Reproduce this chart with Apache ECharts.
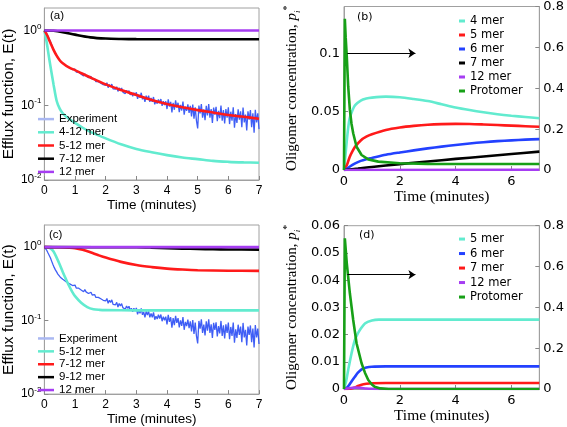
<!DOCTYPE html>
<html><head><meta charset="utf-8">
<script src="https://cdn.jsdelivr.net/npm/echarts@6.0.0/dist/echarts.min.js"></script>
<style>html,body{margin:0;padding:0;background:#fff}#c{width:567px;height:427px}</style>
</head><body><div id="c"></div>
<script>
// ---------- DATA ----------
// Experimental efflux function (shared by panels a and c), sampled every expStep minutes from t = 0
const expStep = 0.04;
const expValues = [
 1.0,0.96,0.90,0.83,0.77,0.71,0.64,0.58,0.53,0.49,0.46,0.43,0.41,0.39,0.375,0.365,0.355,0.345,0.337,0.328,0.323,0.314,0.31,0.30,0.302,
 0.304,0.278,0.288,0.276,0.285,0.261,0.265,0.247,0.264,0.246,0.252,0.234,0.240,0.243,0.223,0.225,0.226,0.207,0.220,0.207,0.216,0.198,0.203,0.189,0.198,
 0.185,0.200,0.172,0.189,0.177,0.192,0.166,0.176,0.164,0.177,0.153,0.171,0.158,0.170,0.150,0.156,0.143,0.158,0.147,0.157,0.138,0.147,0.132,0.147,0.135,
 0.149,0.122,0.139,0.126,0.147,0.120,0.131,0.111,0.134,0.119,0.134,0.111,0.125,0.111,0.129,0.103,0.115,0.105,0.120,0.107,0.121,0.098,0.113,0.101,0.113,
 0.089,0.120,0.096,0.111,0.080,0.108,0.087,0.116,0.093,0.108,0.081,0.101,0.085,0.112,0.075,0.096,0.084,0.103,0.079,0.098,0.071,0.102,0.066,0.094,0.062,
 0.049,0.099,0.078,0.104,0.068,0.088,0.063,0.098,0.073,0.104,0.068,0.089,0.058,0.093,0.075,0.095,0.061,0.084,0.067,0.099,0.062,0.086,0.057,0.089,0.068,
 0.094,0.056,0.082,0.062,0.094,0.050,0.076,0.058,0.088,0.064,0.083,0.051,0.093,0.059,0.075,0.046,0.083,0.064,0.086,0.051,0.078,0.043,0.087,0.059,0.078,0.048
];

// Panel (a): model efflux curves [t, E]
const a_4_12 = [[0,1],[0.05,0.8],[0.1,0.6],[0.15,0.44],[0.2,0.33],[0.3,0.19],[0.4,0.115],[0.5,0.09],[0.6,0.078],[0.8,0.066],[1,0.058],[1.25,0.05],[1.5,0.044],[2,0.036],[2.5,0.03],[3,0.026],[3.5,0.0235],[4,0.0215],[4.5,0.02],[5,0.019],[5.5,0.018],[6,0.0175],[6.5,0.0172],[7,0.017]];
const a_5_12 = [[0,1],[0.05,0.93],[0.1,0.85],[0.15,0.76],[0.2,0.68],[0.3,0.55],[0.4,0.46],[0.5,0.40],[0.6,0.365],[0.8,0.32],[1,0.295],[1.5,0.235],[2,0.19],[2.5,0.16],[3,0.137],[3.5,0.118],[4,0.104],[4.5,0.094],[5,0.086],[5.5,0.08],[6,0.074],[6.5,0.07],[7,0.066]];
const a_7_12 = [[0,1],[0.3,0.99],[0.6,0.95],[1,0.88],[1.5,0.81],[2,0.78],[2.5,0.77],[3,0.766],[4,0.765],[5,0.765],[6,0.765],[7,0.765]];
const a_12 = [[0,1],[7,1]];

// Panel (c): model efflux curves [t, E]
const c_5_12 = [[0,1],[0.1,0.995],[0.2,0.96],[0.3,0.87],[0.4,0.72],[0.5,0.58],[0.6,0.46],[0.7,0.37],[0.8,0.3],[0.9,0.25],[1,0.215],[1.2,0.175],[1.4,0.153],[1.6,0.143],[1.8,0.14],[2,0.139],[3,0.138],[7,0.138]];
const c_7_12 = [[0,1],[0.5,0.995],[0.8,0.985],[1,0.97],[1.25,0.92],[1.5,0.85],[1.75,0.78],[2,0.72],[2.5,0.63],[3,0.57],[3.5,0.535],[4,0.51],[4.5,0.495],[5,0.485],[6,0.478],[7,0.475]];
const c_9_12 = [[0,1],[3,0.995],[3.5,0.985],[4,0.97],[4.5,0.955],[5,0.945],[5.5,0.935],[6,0.93],[7,0.925]];
const c_12 = [[0,1],[7,1]];

// Panel (b): oligomer concentrations (left axis) and protomer (right axis)
const b_4 = [[0,0],[0.05,0.012],[0.1,0.025],[0.15,0.036],[0.2,0.044],[0.3,0.051],[0.4,0.0555],[0.6,0.0595],[0.8,0.0612],[1,0.062],[1.5,0.0628],[2,0.0623],[2.5,0.0608],[3,0.059],[3.5,0.0563],[4,0.0535],[4.5,0.0513],[5,0.0494],[5.5,0.0478],[6,0.0465],[6.5,0.0454],[7,0.0443]];
const b_5 = [[0,0],[0.1,0.004],[0.2,0.011],[0.3,0.016],[0.4,0.02],[0.6,0.0253],[0.8,0.0285],[1,0.0306],[1.5,0.0343],[2,0.0364],[2.5,0.0378],[3,0.0388],[3.5,0.0393],[4,0.0395],[4.5,0.0394],[5,0.039],[5.5,0.0385],[6,0.038],[6.5,0.0375],[7,0.037]];
const b_6 = [[0,0],[0.1,0.0008],[0.2,0.0028],[0.4,0.0057],[0.6,0.0078],[0.8,0.0092],[1,0.0103],[1.5,0.013],[2,0.015],[2.5,0.0168],[3,0.0185],[3.5,0.02],[4,0.0214],[4.5,0.0227],[5,0.0238],[5.5,0.0247],[6,0.0254],[6.5,0.026],[7,0.0264]];
const b_7 = [[0,0],[0.5,0.0012],[1,0.0026],[2,0.005],[3,0.0073],[4,0.0095],[5,0.0116],[6,0.0137],[7,0.0157]];
const b_12 = [[0,0],[7,0.0002]];
const b_prot = [[0,0],[0.03,0.74],[0.06,0.65],[0.1,0.555],[0.15,0.41],[0.21,0.294],[0.27,0.225],[0.33,0.18],[0.45,0.114],[0.63,0.0735],[0.87,0.052],[1.23,0.041],[2,0.033],[3,0.03],[5,0.029],[7,0.029]];

// Panel (d)
const d_5 = [[0,0],[0.08,0.003],[0.15,0.007],[0.27,0.0131],[0.39,0.018],[0.5,0.0205],[0.57,0.0217],[0.75,0.0241],[1,0.0252],[1.25,0.0255],[2,0.0255],[7,0.0255]];
const d_6 = [[0,0],[0.1,0.0005],[0.2,0.0017],[0.3,0.0032],[0.39,0.0045],[0.5,0.006],[0.63,0.0072],[0.8,0.0079],[1,0.0082],[1.5,0.0083],[7,0.0083]];
const d_7 = [[0,0],[0.2,0.0001],[0.3,0.0003],[0.4,0.0006],[0.5,0.0011],[0.63,0.0016],[0.8,0.0019],[1,0.0021],[1.5,0.0022],[7,0.0022]];
const d_12 = [[0,0],[0.2,0.0003],[0.4,0.0005],[0.6,0.0004],[0.8,0.0002],[1,0.0001],[1.5,0],[7,0]];
const d_prot = [[0,0],[0.03,0.738],[0.1,0.616],[0.21,0.469],[0.33,0.338],[0.45,0.224],[0.63,0.126],[0.75,0.08],[0.87,0.044],[1.0,0.022],[1.1,0.011],[1.3,0.003],[1.6,0],[7,0]];

// Arrow annotations (t start, t end, left-axis value)
const b_arrow = [0.12, 2.56, 0.1];
const d_arrow = [0.12, 2.56, 0.042];

// Legend labels
const legA = ['Experiment','4-12 mer','5-12 mer','7-12 mer','12 mer'];
const legB = ['4 mer','5 mer','6 mer','7 mer','12 mer','Protomer'];
const legC = ['Experiment','5-12 mer','7-12 mer','9-12 mer','12 mer'];
const legD = ['5 mer','6 mer','7 mer','12 mer','Protomer'];

// ---------- STYLE ----------
const COL = {cyan:'#62ebcf', red:'#ff1a1a', black:'#000000', purple:'#a63df2', blue:'#2341ff', green:'#17a017', exp:'#2a4cf4', expLeg:'#aab8f2'};
const GRAY = '#a0a0a0';
const SANS = 'Liberation Sans', DJ = 'DejaVu Sans', SERIF = 'Liberation Serif';
const ZW = '\u200b'; // keeps legend names of lower panels distinct

const expData = expValues.map((v,i)=>[+(i*expStep).toFixed(2), v]);

function lineS(name, data, color, xi, yi, extra){
  return Object.assign({type:'line', name, data, xAxisIndex:xi, yAxisIndex:yi, showSymbol:false, symbol:'none',
    smooth:0.3, lineStyle:{color, width:2.6}, itemStyle:{color}, animation:false, z:3}, extra||{});
}
function expS(name, xi, yi){
  return {type:'line', name, data:expData, xAxisIndex:xi, yAxisIndex:yi, showSymbol:false, symbol:'none',
    lineStyle:{color:COL.exp, width:1.3, opacity:0.9}, itemStyle:{color:COL.exp}, animation:false, z:2};
}
function arrowML(a){
  return {silent:true, symbol:['none','arrow'], symbolSize:7, animation:false,
    lineStyle:{color:'#000', width:1, type:'solid'}, label:{show:false}, emphasis:{disabled:true},
    data:[[{coord:[a[0],a[2]]},{coord:[a[1],a[2]]}]]};
}
const tickIn = {inside:true, length:4, lineStyle:{color:'#888'}};
const axLine = {lineStyle:{color:GRAY}};

function xAx(gi, interval, font, fsz, nameFont, nameSize, nameGap, margin){
  return {type:'value', gridIndex:gi, min:0, max:7, interval, axisLine:axLine, axisTick:tickIn, splitLine:{show:false},
    axisLabel:{fontFamily:font, fontSize:fsz, color:'#000', margin, showMaxLabel: interval===1},
    name:'Time (minutes)', nameLocation:'middle', nameGap, nameTextStyle:{fontFamily:nameFont, fontSize:nameSize, color:'#000'}};
}
function logY(gi){
  return {type:'log', logBase:10, gridIndex:gi, min:0.01, max:2, axisLine:axLine, axisTick:tickIn, splitLine:{show:false},
    axisLabel:{showMaxLabel:false, margin:3,
      formatter: v => '{b|10}{s|' + Math.round(Math.log10(v)) + '}',
      rich:{b:{fontFamily:SANS, fontSize:12, color:'#000', lineHeight:16}, s:{fontFamily:SANS, fontSize:8, color:'#000', lineHeight:8, verticalAlign:'top'}}},
    name:'Efflux function, E(t)', nameLocation:'middle', nameGap:19,
    nameTextStyle:{fontFamily:SANS, fontSize:15.5, color:'#000'}};
}
function concY(gi, max, interval, showMax){
  return {type:'value', gridIndex:gi, min:0, max, interval, axisLine:axLine, axisTick:tickIn, splitLine:{show:false},
    axisLabel:{fontFamily:DJ, fontSize:13, color:'#000', margin:4, showMaxLabel:showMax},
    name:'{t|Oligomer concentration, }{p|p}{i|i}{s|*}', nameLocation:'middle', nameGap:42,
    nameTextStyle:{rich:{
      t:{fontFamily:SERIF, fontSize:15, color:'#000', lineHeight:20},
      p:{fontFamily:SERIF, fontSize:15, fontStyle:'italic', color:'#000', lineHeight:20},
      i:{fontFamily:SERIF, fontSize:9, fontStyle:'italic', color:'#000', lineHeight:9, verticalAlign:'bottom'},
      s:{fontFamily:SERIF, fontSize:10, color:'#000', lineHeight:9, verticalAlign:'top'}}}};
}
function rightY(gi){
  return {type:'value', gridIndex:gi, position:'right', min:0, max:0.8, interval:0.2, axisLine:{show:true, lineStyle:{color:GRAY}},
    axisTick:tickIn, splitLine:{show:false}, axisLabel:{fontFamily:DJ, fontSize:13, color:'#000', margin:4}};
}
function legend(names, colors, left, top, lh, font, iw, ih){
  return {orient:'vertical', left, top, itemGap:0, itemWidth:iw, itemHeight:ih, icon:'rect', padding:0,
    selectedMode:false, textStyle:{fontFamily:font, fontSize:11.5, lineHeight:lh, color:'#000'},
    data:names.map((n,i)=>({name:n, itemStyle:{color:colors[i], borderWidth:0}}))};
}

const option = {
  animation:false,
  backgroundColor:'#fff',
  grid:[
    {left:36, top:8, width:223, height:172, show:true, borderColor:GRAY, borderWidth:1, backgroundColor:'transparent'},
    {left:344, top:6.5, width:196, height:163.5, show:true, borderColor:GRAY, borderWidth:1, backgroundColor:'transparent'},
    {left:36, top:225, width:223, height:173, show:true, borderColor:GRAY, borderWidth:1, backgroundColor:'transparent'},
    {left:344, top:225.7, width:196, height:163.3, show:true, borderColor:GRAY, borderWidth:1, backgroundColor:'transparent'}
  ],
  xAxis:[
    xAx(0, 1, SANS, 12, SANS, 13.5, 14, 5),
    xAx(1, 2, DJ, 13, SERIF, 15.5, 19, 5),
    xAx(2, 1, SANS, 12, SANS, 13.5, 14, 5),
    xAx(3, 2, DJ, 13, SERIF, 15.5, 19, 5)
  ],
  yAxis:[
    logY(0),
    concY(1, 0.14, 0.05, false),
    rightY(1),
    logY(2),
    concY(3, 0.06, 0.01, true),
    rightY(3)
  ],
  legend:[
    legend(legA, [COL.expLeg, COL.cyan, COL.red, COL.black, COL.purple], 38, 112.5, 13.2, SANS, 16, 2.5),
    legend(legB, [COL.cyan, COL.red, COL.blue, COL.black, COL.purple, COL.green], 459, 14, 14, DJ, 6, 3),
    legend(legC.map(n=>n+ZW), [COL.expLeg, COL.cyan, COL.red, COL.black, COL.purple], 38, 332, 12.9, SANS, 16, 2.5),
    legend(legD.map(n=>n+ZW), [COL.cyan, COL.blue, COL.red, COL.purple, COL.green], 459, 231.8, 14.5, DJ, 6, 3)
  ],
  graphic:[
    {type:'text', left:50, top:10, style:{text:'(a)', fontFamily:SANS, fontSize:11.5, fill:'#000'}},
    {type:'text', left:357, top:12, style:{text:'(b)', fontFamily:DJ, fontSize:11, fill:'#000'}},
    {type:'text', left:49, top:229, style:{text:'(c)', fontFamily:SANS, fontSize:11.5, fill:'#000'}},
    {type:'text', left:359, top:229.5, style:{text:'(d)', fontFamily:DJ, fontSize:11, fill:'#000'}}
  ],
  series:[
    // (a)
    expS(legA[0], 0, 0),
    lineS(legA[1], a_4_12, COL.cyan, 0, 0),
    lineS(legA[2], a_5_12, COL.red, 0, 0),
    lineS(legA[3], a_7_12, COL.black, 0, 0),
    lineS(legA[4], a_12, COL.purple, 0, 0),
    // (b)
    lineS(legB[0], b_4, COL.cyan, 1, 1, {markLine:arrowML(b_arrow)}),
    lineS(legB[1], b_5, COL.red, 1, 1),
    lineS(legB[2], b_6, COL.blue, 1, 1),
    lineS(legB[3], b_7, COL.black, 1, 1),
    lineS(legB[4], b_12, COL.purple, 1, 1),
    lineS(legB[5], b_prot, COL.green, 1, 2, {smooth:false}),
    // (c)
    expS(legC[0]+ZW, 2, 3),
    lineS(legC[1]+ZW, c_5_12, COL.cyan, 2, 3),
    lineS(legC[2]+ZW, c_7_12, COL.red, 2, 3),
    lineS(legC[3]+ZW, c_9_12, COL.black, 2, 3),
    lineS(legC[4]+ZW, c_12, COL.purple, 2, 3),
    // (d)
    lineS(legD[0]+ZW, d_5, COL.cyan, 3, 4, {markLine:arrowML(d_arrow)}),
    lineS(legD[1]+ZW, d_6, COL.blue, 3, 4),
    lineS(legD[2]+ZW, d_7, COL.red, 3, 4),
    lineS(legD[3]+ZW, d_12, COL.purple, 3, 4),
    lineS(legD[4]+ZW, d_prot, COL.green, 3, 5, {smooth:false})
  ]
};
const chart = echarts.init(document.getElementById('c'), null, {renderer:'canvas'});
chart.setOption(option);
</script></body></html>
